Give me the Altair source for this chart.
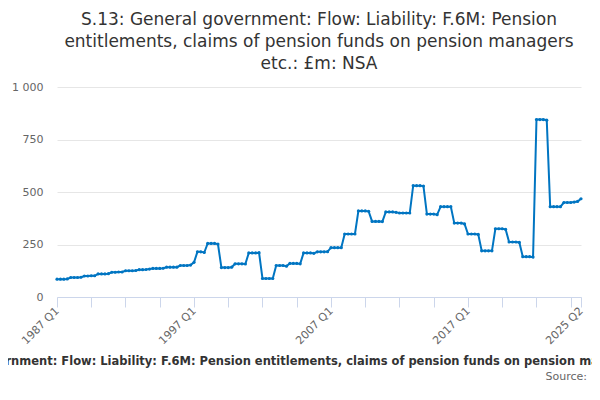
import pandas as pd
import altair as alt

# quarterly values, one list of quarters per year, 1987 Q1 .. 2025 Q2
start_year = 1987
quarters_by_year = [
    [85, 85, 85, 86], [93, 93, 93, 94], [100, 100, 101, 101], [110, 110, 110, 111],
    [118, 118, 119, 119], [125, 125, 125, 126], [130, 130, 131, 133],
    [136, 136, 136, 137], [142, 142, 142, 142], [150, 150, 150, 152],
    [165, 215, 215, 212], [255, 255, 255, 252], [140, 140, 140, 142],
    [158, 158, 158, 157], [210, 210, 210, 211], [88, 88, 88, 88],
    [150, 150, 150, 147], [160, 160, 160, 158], [210, 210, 210, 208],
    [215, 215, 215, 216], [235, 235, 235, 235], [300, 300, 300, 300],
    [410, 410, 410, 408], [360, 360, 360, 359], [405, 405, 405, 403],
    [400, 400, 400, 400], [530, 530, 530, 528], [395, 395, 395, 392],
    [430, 430, 430, 430], [352, 352, 352, 348], [300, 300, 300, 298],
    [220, 220, 220, 220], [325, 325, 325, 322], [262, 262, 262, 260],
    [192, 192, 192, 190], [845, 845, 845, 842], [430, 430, 430, 430],
    [450, 450, 450, 452], [455, 468],
]

rows = []
for i, yr in enumerate(quarters_by_year):
    for q, v in enumerate(yr):
        rows.append({"idx": len(rows), "label": f"{start_year + i} Q{q + 1}", "value": v})
df = pd.DataFrame(rows)
last = len(df) - 1

W, H = 524, 210
FONT = "DejaVu Sans"
title_text = ["S.13: General government: Flow: Liability: F.6M: Pension",
              "entitlements, claims of pension funds on pension managers",
              "etc.: £m: NSA"]
series_name = ("S.13: General government: Flow: Liability: F.6M: Pension entitlements, "
               "claims of pension funds on pension managers etc.: £m: NSA")

line = alt.Chart(df).mark_line(
    color="#0075c2", strokeWidth=2,
    point=alt.OverlayMarkDef(color="#0075c2", size=10),
).encode(
    x=alt.X("idx:Q", title=None, scale=alt.Scale(domain=[0, last], nice=False, zero=False),
            axis=alt.Axis(
                values=list(range(0, last, 10)) + [last],
                labelExpr=(f"(datum.value % 40 == 0 || datum.value == {last}) ? "
                           f"(floor(datum.value/4)+{start_year}) + ' Q' + (datum.value%4+1) : ''"),
                labelAngle=-45, labelAlign="right", labelBaseline="middle",
                grid=False, tickSize=10, tickColor="#ccd6eb", domainColor="#ccd6eb",
                labelColor="#666666", labelFontSize=11, labelFont=FONT, labelOverlap=False)),
    y=alt.Y("value:Q", title=None, scale=alt.Scale(domain=[0, 1000]),
            axis=alt.Axis(values=[0, 250, 500, 750, 1000], domain=False, ticks=False,
                          labelExpr="replace(format(datum.value, ','), ',', ' ')",
                          gridColor="#e6e6e6", labelColor="#666666", labelFontSize=11,
                          labelFont=FONT, labelPadding=14)),
    tooltip=["label:N", "value:Q"],
)

bottom_name = alt.Chart(df.head(1)).mark_text(
    fontWeight="bold", fontSize=11.5, font=FONT, color="#333333", align="center"
).encode(x=alt.value(W / 2 - 10), y=alt.value(H + 65), text=alt.value(series_name))

bottom_src = alt.Chart(df.head(1)).mark_text(
    fontSize=11, font=FONT, color="#666666", align="right"
).encode(x=alt.value(W + 6), y=alt.value(H + 80), text=alt.value("Source:"))

chart = (line + bottom_name + bottom_src).properties(
    width=W, height=H,
    title=alt.TitleParams(title_text, fontSize=17, font=FONT, fontWeight="normal",
                          color="#333333", anchor="middle", offset=8, lineHeight=22),
    autosize=alt.AutoSizeParams(type="none"),
    padding={"left": 49, "top": 79, "right": 11, "bottom": 95},
).configure_view(strokeWidth=0)

chart.save("out.html", embed_options={"renderer": "svg", "actions": False})
